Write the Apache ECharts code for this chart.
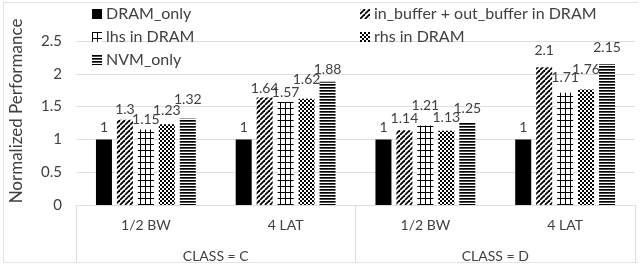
<!DOCTYPE html>
<html>
<head>
<meta charset="utf-8">
<script src="https://cdn.jsdelivr.net/npm/echarts@6.0.0/dist/echarts.min.js"></script>
<style>
  html, body { margin: 0; padding: 0; background: #fff; overflow: hidden; }
  #frame { position: absolute; left: 3px; top: 2px; width: 634px; height: 259px; border: 1px solid #e3e3e3; border-right: none; }
  #chart { position: absolute; left: 0; top: 0; width: 642px; height: 266px; }
</style>
</head>
<body>
<div id="frame"></div>
<div id="chart"></div>
<script>
// categories (two levels)
const subCategories = ['1/2 BW', '4 LAT', '1/2 BW', '4 LAT']
const classes = ['CLASS = C', 'CLASS = D']

// series values
const dramOnly = [1, 1, 1, 1]
const inOutBuffer = [1.3, 1.64, 1.14, 2.1]
const lhsInDram = [1.15, 1.57, 1.21, 1.71]
const rhsInDram = [1.23, 1.62, 1.13, 1.76]
const nvmOnly = [1.32, 1.88, 1.25, 2.15]

// y axis ticks
const yMin = 0
const yMax = 2.5
const yStep = 0.5

// extra lift of some value labels (px), like excel moved them
const liftDram = [3, 3, 3, 3]
const liftInOut = [1, 0, 3, 8]
const liftLhs = [1, 1, 11, 6]
const liftRhs = [5, 10, 4, 11]
const liftNvm = [10, 3, 6, 7]

const font = 'Lato'
const textColor = '#404040'
const lineGray = '#dedede'

// fill patterns
function makePattern(w, h, draw) {
  const c = document.createElement('canvas')
  c.width = w
  c.height = h
  const ctx = c.getContext('2d')
  ctx.fillStyle = '#fff'
  ctx.fillRect(0, 0, w, h)
  ctx.fillStyle = '#000'
  ctx.strokeStyle = '#000'
  draw(ctx, w, h)
  return { image: c, repeat: 'repeat' }
}

const diagPattern = makePattern(5, 5, (ctx, w, h) => {
  ctx.lineWidth = 1.8
  for (const o of [-w, 0, w]) {
    ctx.beginPath()
    ctx.moveTo(o, h)
    ctx.lineTo(o + w, 0)
    ctx.stroke()
  }
})
const gridPattern = makePattern(5, 6, (ctx, w, h) => {
  ctx.fillRect(0, 0, 1, h)
  ctx.fillRect(0, 0, w, 1)
})
const checkPattern = makePattern(4, 4, (ctx) => {
  ctx.fillRect(0, 0, 2, 2)
  ctx.fillRect(2, 2, 2, 2)
})
const hlinePattern = makePattern(4, 3, (ctx, w) => {
  ctx.fillRect(0, 0, w, 1.7)
})

function barSeries(name, values, lifts, fill) {
  return {
    name: name,
    type: 'bar',
    barWidth: 16,
    barGap: '31%',
    itemStyle: { color: fill },
    label: {
      show: true,
      position: 'top',
      distance: 2,
      fontFamily: font,
      fontSize: 14,
      color: textColor,
    },
    data: values.map((v, i) => ({ value: v, label: { offset: [0, -lifts[i]] } })),
  }
}

const legendBase = {
  orient: 'vertical',
  top: 6,
  padding: 0,
  itemWidth: 10,
  itemHeight: 10,
  itemGap: 7,
  icon: 'rect',
  textStyle: { fontSize: 16, color: textColor, padding: [0, 0, 0, -1] },
}

const chart = echarts.init(document.getElementById('chart'))
chart.setOption({
  animation: false,
  textStyle: { fontFamily: font },
  grid: { left: 76, right: 7, top: 41, bottom: 61 },
  legend: [
    Object.assign({}, legendBase, { data: ['DRAM_only', 'lhs in DRAM', 'NVM_only'], left: 92 }),
    Object.assign({}, legendBase, { data: ['in_buffer + out_buffer in DRAM', 'rhs in DRAM'], left: 360 }),
  ],
  xAxis: [
    {
      type: 'category',
      data: subCategories,
      position: 'bottom',
      axisLine: { lineStyle: { color: lineGray } },
      axisTick: { show: false },
      axisLabel: { margin: 13, fontSize: 14, color: textColor },
    },
    {
      type: 'category',
      data: classes,
      position: 'bottom',
      axisLine: { show: false },
      axisTick: { show: true, length: 57, lineStyle: { color: lineGray } },
      axisLabel: { margin: 44, fontSize: 14, color: textColor },
    },
  ],
  yAxis: {
    type: 'value',
    min: yMin,
    max: yMax,
    interval: yStep,
    name: 'Normalized Performance',
    nameLocation: 'middle',
    nameGap: 51,
    nameTextStyle: { fontSize: 17, color: textColor, padding: [0, 0, 0, 24] },
    axisLine: { show: false },
    axisTick: { show: false },
    axisLabel: { margin: 14, fontSize: 15, color: textColor },
    splitLine: { lineStyle: { color: lineGray } },
  },
  series: [
    barSeries('DRAM_only', dramOnly, liftDram, '#000'),
    barSeries('in_buffer + out_buffer in DRAM', inOutBuffer, liftInOut, diagPattern),
    barSeries('lhs in DRAM', lhsInDram, liftLhs, gridPattern),
    barSeries('rhs in DRAM', rhsInDram, liftRhs, checkPattern),
    barSeries('NVM_only', nvmOnly, liftNvm, hlinePattern),
  ],
})
</script>
</body>
</html>
